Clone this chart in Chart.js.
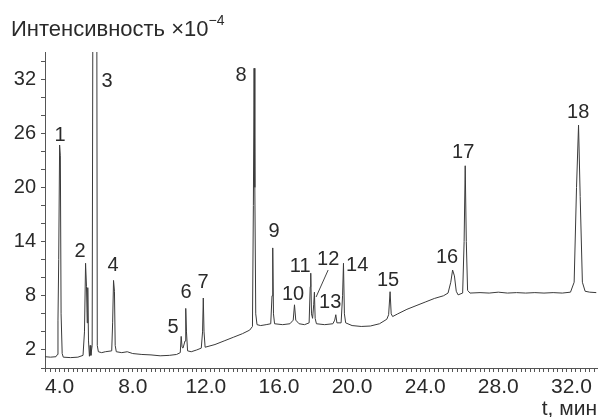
<!DOCTYPE html>
<html>
<head>
<meta charset="utf-8">
<script src="https://cdn.jsdelivr.net/npm/chart.js@4"></script>
<style>
  body { margin: 0; background: #fff; }
  #wrap { width: 599px; height: 417px; position: relative; }
</style>
</head>
<body>
<div id="wrap"><canvas id="chromChart"></canvas></div>
<script>
// retention time, min
const times = [
  3.20, 3.50, 3.80, 3.88, 3.91, 3.95, 4.00, 4.04, 4.08, 4.14, 4.20, 4.60, 5.00,
  5.28, 5.36, 5.42, 5.47, 5.51, 5.54, 5.58, 5.63, 5.67, 5.71, 5.78, 5.84, 6.02,
  6.06, 6.12, 6.30, 6.50, 6.85, 6.90, 6.95, 7.00, 7.04, 7.10, 7.40, 7.70, 8.00,
  8.50, 9.00, 9.50, 10.00, 10.40, 10.60, 10.65, 10.70, 10.75, 10.86, 10.90, 10.94,
  11.00, 11.20, 11.50, 11.75, 11.82, 11.86, 11.90, 11.96, 12.50, 13.00, 13.50,
  14.00, 14.40, 14.55, 14.60, 14.64, 14.68, 14.73, 14.80, 15.00, 15.30, 15.55,
  15.62, 15.66, 15.70, 15.76, 16.20, 16.60, 16.78, 16.85, 16.92, 17.10, 17.40,
  17.65, 17.71, 17.74, 17.78, 17.84, 17.90, 17.94, 17.98, 18.05, 18.50, 18.95,
  19.05, 19.11, 19.17, 19.40, 19.48, 19.53, 19.58, 19.65, 20.00, 20.50, 21.00,
  21.50, 21.90, 22.00, 22.08, 22.14, 22.22, 22.50, 23.00, 23.50, 24.00, 24.50,
  25.00, 25.25, 25.40, 25.50, 25.60, 25.70, 25.80, 26.05, 26.13, 26.19, 26.25,
  26.32, 26.45, 27.00, 27.50, 28.00, 28.50, 29.00, 29.50, 30.00, 30.50, 31.00,
  31.50, 31.95, 32.15, 32.28, 32.39, 32.48, 32.60, 32.75, 33.00, 33.36
];
// intensity x10^-4 (peak 3 is off scale)
const signal = [
  1.25, 1.2, 1.25, 1.5, 5.3, 12, 24.7, 23.5, 6, 1.6, 1.2, 1.15, 1.2,
  1.4, 4, 11.6, 9, 5, 8.9, 3, 1.3, 2.5, 1.4, 2.5, 60, 60,
  2.5, 1.8, 1.7, 1.8, 1.9, 5, 9.7, 8.5, 2.5, 1.8, 1.7, 1.8, 1.6,
  1.5, 1.45, 1.35, 1.4, 1.5, 1.7, 3.5, 2.3, 2.2, 3, 6.6, 4,
  1.9, 1.8, 2.0, 2.2, 4, 7.75, 4, 2.3, 2.6, 3.0, 3.4,
  3.8, 4.2, 4.6, 18, 33.2, 20, 6, 4.8, 4.7, 4.8, 4.9,
  8, 13.3, 6, 4.9, 4.8, 4.9, 5.3, 7.0, 5.3, 4.9, 4.8,
  5.0, 9, 10.5, 6, 5.5, 7, 8.4, 5.5, 4.9, 4.8, 4.9,
  5.3, 5.9, 5.0, 5.0, 8, 11.6, 6, 5.0, 4.7, 4.6, 4.65,
  4.9, 5.4, 5.9, 8.45, 6.0, 5.7, 6.0, 6.5, 6.9, 7.3, 7.7,
  8.0, 8.3, 9.5, 10.85, 10.2, 8.5, 8.1, 8.3, 14, 22.4, 14,
  8.6, 8.3, 8.35, 8.3, 8.4, 8.3, 8.35, 8.3, 8.35, 8.3, 8.35,
  8.3, 8.4, 9.5, 20, 26.9, 19, 9.5, 8.5, 8.4, 8.35
];

// peak numbers and where their labels sit (time, intensity)
const peakNames = ['1','2','3','4','5','6','7','8','9','10','11','12','13','14','15','16','17','18'];
const labelTimes = [4.02, 5.12, 6.59, 6.92, 10.21, 10.92, 11.85, 13.93, 15.73, 16.77, 17.16, 18.69, 18.80, 20.28, 21.97, 25.20, 26.08, 32.37];
const labelLevels = [25.8, 12.85, 31.7, 11.4, 4.54, 8.4, 9.5, 32.4, 15.1, 8.1, 11.2, 12.0, 7.3, 11.4, 9.7, 12.2, 23.9, 28.35];

const yLabels = [2, 8, 14, 20, 26, 32];
const xLabels = [4, 8, 12, 16, 20, 24, 28, 32];

const points = times.map((t, i) => ({ x: t, y: signal[i] }));

const FONT = 'Liberation Sans, Arial, sans-serif';
const INK = '#2a2a2a';
const AXIS = '#555';

const decorPlugin = {
  id: 'decor',
  afterDraw(chart) {
    const ctx = chart.ctx;
    const xs = chart.scales.x, ys = chart.scales.y;
    ctx.save();
    ctx.fillStyle = INK;
    ctx.textAlign = 'center';
    ctx.textBaseline = 'middle';
    ctx.font = '20px ' + FONT;
    peakNames.forEach((n, i) => {
      ctx.fillText(n, xs.getPixelForValue(labelTimes[i]), ys.getPixelForValue(labelLevels[i]));
    });
    // leader line for peak 12
    ctx.strokeStyle = '#444';
    ctx.lineWidth = 1;
    ctx.beginPath();
    ctx.moveTo(xs.getPixelForValue(18.69), ys.getPixelForValue(10.85));
    ctx.lineTo(xs.getPixelForValue(18.03), ys.getPixelForValue(7.86));
    ctx.stroke();

    // axis titles
    ctx.textAlign = 'left';
    ctx.textBaseline = 'alphabetic';
    ctx.font = '22px ' + FONT;
    const main = 'Интенсивность ×10';
    ctx.fillText(main, 11, 36);
    const w = ctx.measureText(main).width;
    ctx.font = '14px ' + FONT;
    ctx.fillText('−4', 11 + w, 25);

    ctx.textAlign = 'right';
    ctx.font = '21px ' + FONT;
    ctx.fillText('t, мин', 597, 415);
    ctx.restore();
  }
};

new Chart(document.getElementById('chromChart'), {
  type: 'line',
  data: {
    datasets: [{
      data: points,
      borderColor: '#3a3a3a',
      borderWidth: 1,
      pointRadius: 0,
      tension: 0,
      fill: false
    }]
  },
  options: {
    responsive: true,
    maintainAspectRatio: false,
    animation: false,
    layout: { padding: { top: 52, right: 2, left: 0, bottom: 0 } },
    plugins: { legend: { display: false }, tooltip: { enabled: false } },
    scales: {
      x: {
        type: 'linear',
        min: 3.2,
        max: 33.4,
        afterFit(scale) { scale.height = 49; },
        afterBuildTicks(scale) {
          const t = [];
          for (let k = 13; k <= 133; k++) t.push({ value: k / 4 });
          scale.ticks = t;
        },
        grid: { drawOnChartArea: false, drawTicks: true, tickLength: 4, color: AXIS },
        border: { color: AXIS, width: 1 },
        ticks: {
          autoSkip: false,
          maxRotation: 0,
          padding: 3,
          color: INK,
          font: { family: FONT, size: 21 },
          callback(v) {
            return xLabels.some(l => Math.abs(l - v) < 1e-6) ? v.toFixed(1) : '';
          }
        }
      },
      y: {
        min: 0,
        max: 35,
        afterFit(scale) { scale.width = 45; },
        afterBuildTicks(scale) {
          const t = [];
          for (let v = 0; v <= 34; v += 2) t.push({ value: v });
          scale.ticks = t;
        },
        grid: { drawOnChartArea: false, drawTicks: true, tickLength: 4, color: AXIS },
        border: { color: AXIS, width: 1 },
        ticks: {
          autoSkip: false,
          padding: 5,
          color: INK,
          font: { family: FONT, size: 20 },
          callback(v) { return yLabels.includes(v) ? String(v) : ''; }
        }
      }
    }
  },
  plugins: [decorPlugin]
});
</script>
</body>
</html>
